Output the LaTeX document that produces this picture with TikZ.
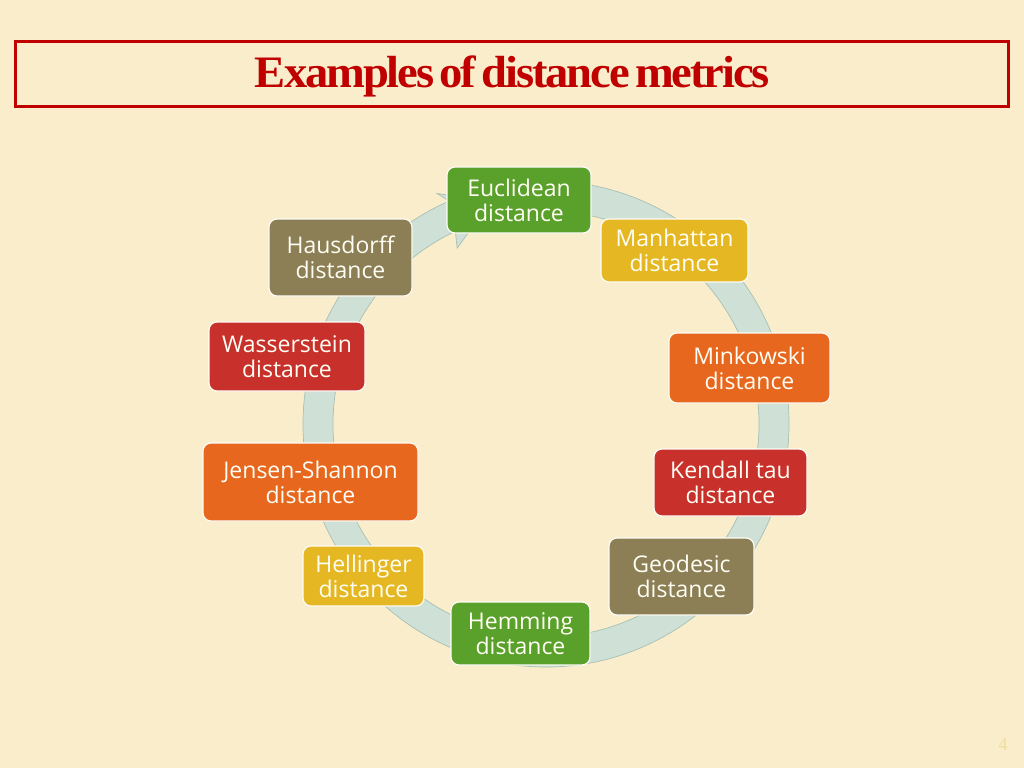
\documentclass[tikz,border=0pt]{standalone}
\usepackage{fontspec}
\setmainfont{Liberation Serif}
\newfontfamily\nodefont{Open Sans}
\newfontfamily\titlefont[LetterSpace=-4.5,WordSpace=0.55]{Liberation Serif}
\usetikzlibrary{calc}
\definecolor{bgc}{HTML}{FAEDCB}
\definecolor{titlered}{HTML}{C00000}
\definecolor{ringfill}{HTML}{CFE1D6}
\definecolor{ringline}{HTML}{A7C0B4}
\definecolor{cgreen}{HTML}{5AA12B}
\definecolor{cyellow}{HTML}{E5B823}
\definecolor{corange}{HTML}{E7671E}
\definecolor{cred}{HTML}{C8302B}
\definecolor{colive}{HTML}{8C7E55}
\definecolor{pagenum}{HTML}{EFDE9E}
\tikzset{
  metric/.style={rectangle, rounded corners=8pt, draw=white!85!bgc, line width=1.2pt,
    text=white!96!yellow, align=center, inner sep=0pt,
    font=\nodefont\fontsize{23}{25}\selectfont},
}
\begin{document}
\begin{tikzpicture}[x=1pt,y=-1pt]
\fill[bgc] (0,0) rectangle (1024,768);
\useasboundingbox (0,0) rectangle (1024,768);
% title
\node[draw=titlered, line width=3pt, minimum width=993pt, minimum height=64pt, inner sep=0pt] (titlebox) at (511.5,74) {};
\node[text=titlered, font=\titlefont\fontsize{45}{50}\selectfont\bfseries, inner sep=0pt, anchor=base] (title) at (512.5,88)
  {\resizebox{515pt}{\height}{Examples of distance metrics}};
% ring arrow
\begin{scope}[shift={(546,424)}]
\filldraw[fill=ringfill, draw=ringline, line width=0.7pt]
  (-85:243) arc[start angle=-85, end angle=246.5, radius=243]
  -- (244.7:255) -- (256:229) -- (243.2:197) -- (244.8:213)
  arc[start angle=244.8, end angle=-85, radius=213] -- cycle;
\end{scope}
% nodes
\node[metric, fill=cgreen, minimum width=144pt, minimum height=66pt] (eucl) at (519,200) {Euclidean\\distance};
\node[metric, fill=cyellow, minimum width=147pt, minimum height=63pt] (manh) at (674.5,250.5) {Manhattan\\distance};
\node[metric, fill=corange, minimum width=161pt, minimum height=70pt] (mink) at (749.5,368) {Minkowski\\distance};
\node[metric, fill=cred, minimum width=153pt, minimum height=67pt] (kend) at (730.5,482.5) {Kendall tau\\distance};
\node[metric, fill=colive, minimum width=145pt, minimum height=77pt] (geod) at (681.5,576.5) {Geodesic\\distance};
\node[metric, fill=cgreen, minimum width=139pt, minimum height=63pt] (hemm) at (520.5,633.5) {Hemming\\distance};
\node[metric, fill=cyellow, minimum width=121pt, minimum height=60pt] (hell) at (363.5,576) {Hellinger\\distance};
\node[metric, fill=corange, minimum width=215pt, minimum height=78pt] (jens) at (310.5,482) {Jensen-Shannon\\distance};
\node[metric, fill=cred, minimum width=156pt, minimum height=69pt] (wass) at (287,356.5) {Wasserstein\\distance};
\node[metric, fill=colive, minimum width=143pt, minimum height=77pt] (haus) at (340.5,257.5) {Hausdorff\\distance};
% page number
\node[text=pagenum, font=\fontsize{18}{20}\selectfont, inner sep=0pt] (pnum) at (1003,745) {4};
\end{tikzpicture}
\end{document}
